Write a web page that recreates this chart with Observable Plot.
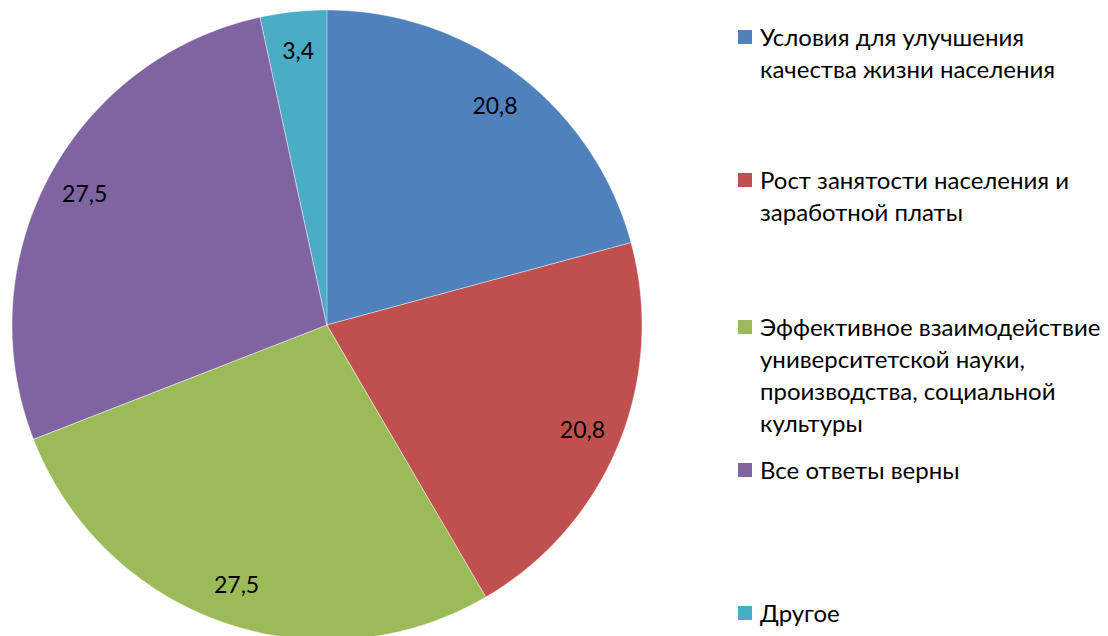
<!DOCTYPE html>
<html>
<head>
<meta charset="utf-8">
<script src="https://cdn.jsdelivr.net/npm/d3@7"></script>
<script src="https://cdn.jsdelivr.net/npm/@observablehq/plot@0.6"></script>
<style>
  html, body { margin: 0; padding: 0; background: #fff; }
  #wrap { position: relative; width: 1108px; height: 636px; overflow: hidden; font-family: Lato, "Open Sans", sans-serif; }
  #legend { position: absolute; left: 738px; top: 0; }
  .item { position: absolute; left: 0; white-space: nowrap; }
  .sw { position: absolute; left: 0; width: 14px; height: 14px; }
  .lbl { position: absolute; left: 22px; font-size: 24px; line-height: 32px; color: #000; }
</style>
</head>
<body>
<div id="wrap"><div id="chart"></div><div id="legend"></div></div>
<script>
const categories = [
  "Условия для улучшения качества жизни населения",
  "Рост занятости населения и заработной платы",
  "Эффективное взаимодействие университетской науки, производства, социальной культуры",
  "Все ответы верны",
  "Другое"
];
const legendLines = [
  ["Условия для улучшения", "качества жизни населения"],
  ["Рост занятости населения и", "заработной платы"],
  ["Эффективное взаимодействие", "университетской науки,", "производства, социальной", "культуры"],
  ["Все ответы верны"],
  ["Другое"]
];
const values = [20.8, 20.8, 27.5, 27.5, 3.4];
const valueLabels = ["20,8", "20,8", "27,5", "27,5", "3,4"];
const colors = ["#4F81BD", "#C0504D", "#9BBB59", "#8064A2", "#4BACC6"];

// Build slice geometry from values (angles start at 12 o'clock, clockwise)
const total = d3.sum(values);
const slices = [];
const labels = [];
let acc = 0;
values.forEach((v, i) => {
  const a0 = acc / total * 2 * Math.PI;
  acc += v;
  const a1 = acc / total * 2 * Math.PI;
  const n = Math.max(2, Math.ceil((a1 - a0) / (Math.PI / 180)));
  for (let k = 0; k <= n; k++) {
    const a = a0 + (a1 - a0) * k / n;
    slices.push({cat: categories[i], x2: Math.sin(a), y2: Math.cos(a), x1: 0, y1: 0});
  }
  const am = (a0 + a1) / 2;
  labels.push({text: valueLabels[i], x: 0.875 * Math.sin(am), y: 0.875 * Math.cos(am)});
});

const chart = Plot.plot({
  width: 1108,
  height: 636,
  margin: 0,
  x: {domain: [-1, 1], range: [12, 642], axis: null},
  y: {domain: [-1, 1], range: [640, 10], axis: null},
  color: {domain: categories, range: colors},
  style: {background: "transparent", overflow: "hidden"},
  marks: [
    Plot.area(slices, {x1: "x1", y1: "y1", x2: "x2", y2: "y2", z: "cat", fill: "cat", stroke: "#ffffff", strokeWidth: 0.6, strokeOpacity: 0.7}),
    Plot.text(labels, {x: "x", y: "y", text: "text", fontSize: 23, fontFamily: "Lato, 'Open Sans', sans-serif", fill: "#000"})
  ]
});
document.getElementById("chart").appendChild(chart);

// Legend
const legendTops = [37, 180, 327, 470, 613];
const legend = document.getElementById("legend");
categories.forEach((c, i) => {
  const item = document.createElement("div");
  item.className = "item";
  item.style.top = (legendTops[i] - 16) + "px";
  const sw = document.createElement("div");
  sw.className = "sw";
  sw.style.background = colors[i];
  sw.style.top = "9px";
  const lbl = document.createElement("div");
  lbl.className = "lbl";
  lbl.innerHTML = legendLines[i].join("<br>");
  item.appendChild(sw);
  item.appendChild(lbl);
  legend.appendChild(item);
});
</script>
</body>
</html>
